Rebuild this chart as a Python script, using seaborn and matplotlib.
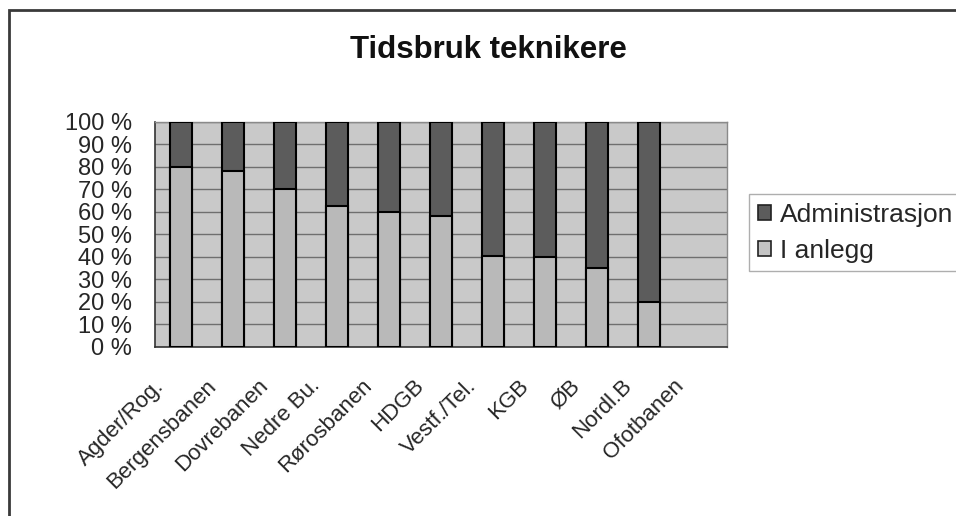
import numpy as np
import pandas as pd
import matplotlib
matplotlib.use("Agg")
import matplotlib.pyplot as plt
import matplotlib.transforms as mtransforms
from matplotlib.patches import Rectangle, Patch
import seaborn as sns

# Share of technicians' time per railway district (percent)
categories = ["Agder/Rog.", "Bergensbanen", "Dovrebanen", "Nedre Bu.", "Rørosbanen",
              "HDGB", "Vestf./Tel.", "KGB", "ØB", "Nordl.B", "Ofotbanen"]
i_anlegg = [80, 78, 70, 62.5, 60, 58, 40.5, 40, 35, 20, np.nan]
administrasjon = [20, 22, 30, 37.5, 40, 42, 59.5, 60, 65, 80, np.nan]
series_names = ["Administrasjon", "I anlegg"]
y_ticks = list(range(0, 101, 10))
y_tick_labels = [f"{v} %" for v in y_ticks]
title = "Tidsbruk teknikere"

admin_color = "#5c5c5c"
anlegg_color = "#b9b9b9"
plot_bg = "#c9c9c9"

sns.set_style("white")
plt.rcParams["font.family"] = ["Liberation Sans", "DejaVu Sans"]

df = pd.DataFrame({"bane": categories,
                   "I anlegg": i_anlegg,
                   "Administrasjon": administrasjon})
df["total"] = df["I anlegg"] + df["Administrasjon"]
bars = df.dropna()

fig = plt.figure(figsize=(9.56, 5.16), dpi=100)
ax = fig.add_axes([155 / 956, 1 - 346.7 / 516, 572 / 956, 225 / 516])
ax.set_facecolor(plot_bg)

# stacked bars: full column in the admin colour, lower part overdrawn with "I anlegg"
common = dict(order=categories, width=0.42, edgecolor="black", linewidth=1.5,
              saturation=1, errorbar=None, ax=ax, zorder=3)
sns.barplot(data=bars, x="bane", y="total", color=admin_color, **common)
sns.barplot(data=bars, x="bane", y="I anlegg", color=anlegg_color, **common)

ax.set_xlabel("")
ax.set_ylabel("")
ax.set_xlim(-0.5, len(categories) - 0.5)
ax.set_ylim(0, 100)

# horizontal gridlines
ax.set_axisbelow(True)
ax.yaxis.grid(True, color="#6f6f6f", linewidth=1.0)
ax.xaxis.grid(False)

# y axis
ax.set_yticks(y_ticks)
ax.set_yticklabels(y_tick_labels)
ax.tick_params(axis="y", which="major", length=4.5, width=1, direction="out",
               pad=12, labelsize=17, color="#333333")

# x axis: tick marks between categories, rotated names under each slot
ax.set_xticks(range(len(categories)))
ax.set_xticklabels(categories, rotation=45, ha="right", va="center",
                   rotation_mode="anchor", fontsize=16)
ax.set_xticks(np.arange(-0.5, len(categories), 1.0), minor=True)
ax.tick_params(axis="x", which="major", length=0, pad=0)
ax.tick_params(axis="x", which="minor", length=4.5, width=1, direction="out",
               color="#333333")
shift = mtransforms.ScaledTranslation(-0.20, -0.36, fig.dpi_scale_trans)
for lab in ax.get_xticklabels():
    lab.set_transform(lab.get_transform() + shift)

for side in ("left", "bottom"):
    ax.spines[side].set_color("#333333")
    ax.spines[side].set_linewidth(1.2)
for side in ("top", "right"):
    ax.spines[side].set_color("#8a8a8a")
    ax.spines[side].set_linewidth(1.0)

# legend
handles = [Patch(facecolor=admin_color, edgecolor="#222222", linewidth=1.2),
           Patch(facecolor="#c4c4c4", edgecolor="#222222", linewidth=1.2)]
leg = fig.legend(handles, series_names, loc="upper left",
                 bbox_to_anchor=(749 / 956, 1 - 194 / 516),
                 bbox_transform=fig.transFigure, borderaxespad=0,
                 fontsize=19, frameon=True, fancybox=False, shadow=False,
                 edgecolor="#9a9a9a", borderpad=0.33, labelspacing=0.45,
                 handlelength=0.52, handleheight=0.52, handletextpad=0.33)
leg.get_frame().set_linewidth(1.0)

# title
fig.text(488 / 956, 1 - 58 / 516, title, ha="center", va="baseline",
         fontsize=22.5, fontweight="bold", color="#111111")

# outer chart border
fig.add_artist(Rectangle((9 / 956, -0.02), 1.0, 1 - 10 / 516 + 0.02,
                         transform=fig.transFigure, fill=False,
                         edgecolor="#3a3a3a", linewidth=2))

fig.savefig("out.png", dpi=100)
